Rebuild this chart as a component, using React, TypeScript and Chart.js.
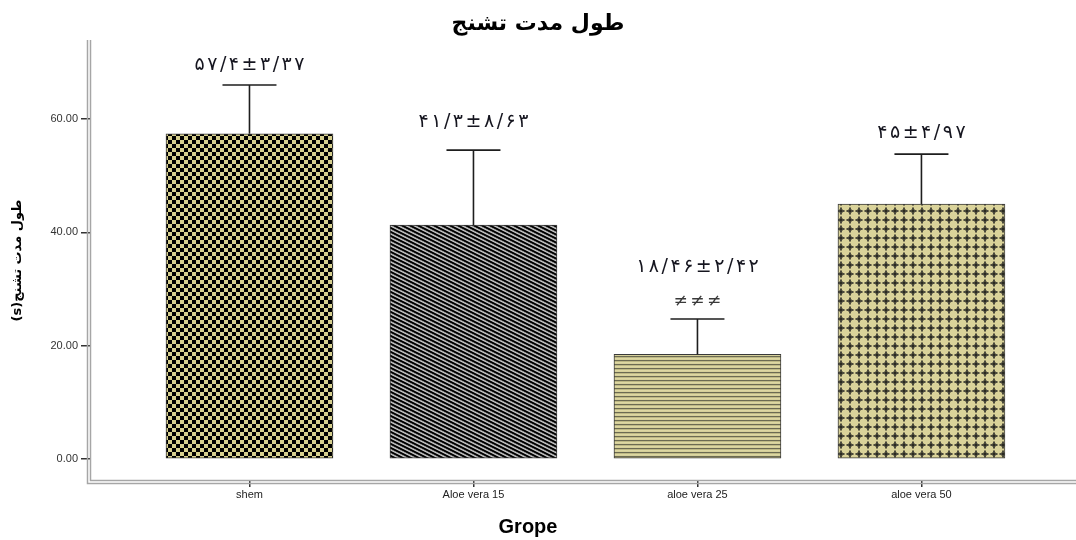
import React, { useEffect, useRef } from 'react';
import { Chart, registerables } from 'chart.js';

Chart.register(...registerables);

const categories = ['shem', 'Aloe vera 15', 'aloe vera 25', 'aloe vera 50'];
const means = [57.4, 41.3, 18.46, 45.0];
const errorTops = [66.0, 54.5, 24.7, 53.8];
const annotations = ['۵۷/۴±۳/۳۷', '۴۱/۳±۸/۶۳', '۱۸/۴۶±۲/۴۲', '۴۵±۴/۹۷'];
const annotationLevels = [69.5, 59.5, 33.9, 57.5];
const marks = ['', '', '≠≠≠', ''];
const markLevels = [0, 0, 27.7, 0];
const yTicks = [0, 20, 40, 60];
const chartTitle = 'طول مدت تشنج';
const yTitle = 'طول مدت تشنج(s)';
const xTitle = 'Grope';

function makePattern(w: number, h: number, paint: (x: number, y: number) => string): CanvasPattern | string {
  const c = document.createElement('canvas');
  c.width = w;
  c.height = h;
  const g = c.getContext('2d');
  if (!g) return '#ccc';
  for (let y = 0; y < h; y++) {
    for (let x = 0; x < w; x++) {
      g.fillStyle = paint(x, y);
      g.fillRect(x, y, 1, 1);
    }
  }
  const p = g.createPattern(c, 'repeat');
  return p || '#ccc';
}

function buildPatterns() {
  const khaki = '#d6cf8e';
  const checker = makePattern(8, 8, (x, y) => ((Math.floor(x / 4) + Math.floor(y / 4)) % 2 === 0 ? khaki : '#000000'));
  const diagCols = ['#000000', '#000000', '#1a1a1a', '#7a7a7a', '#a8a8a8', '#c8c8c8', '#8a8a8a', '#202020'];
  const diagonal = makePattern(8, 4, (x, y) => diagCols[(((2 * y - x) % 8) + 8) % 8]);
  const hCols = ['#6b6a52', '#bdb884', '#ddd7a2', '#d6d09a'];
  const horizontal = makePattern(4, 4, (x, y) => hCols[y]);
  const crossTile = [
    '...++....',
    '...##....',
    '..+##+...',
    '+##@@##+.',
    '+##@@##+.',
    '..+##+...',
    '...##....',
    '...++....',
    '.........',
  ];
  const cross = makePattern(9, 9, (x, y) => {
    const ch = crossTile[y][x];
    if (ch === '@') return '#2a2a20';
    if (ch === '#') return '#4a493c';
    if (ch === '+') return '#908b66';
    return '#dad39a';
  });
  return [checker, diagonal, horizontal, cross];
}

// draws a string glyph by glyph with extra spacing, centred on x
function spacedText(ctx: CanvasRenderingContext2D, text: string, x: number, y: number, spacing: number) {
  const chars = Array.from(text);
  const widths = chars.map((c) => ctx.measureText(c).width);
  const total = widths.reduce((a, b) => a + b, 0) + spacing * (chars.length - 1);
  let cx = x - total / 2;
  ctx.textAlign = 'left';
  chars.forEach((c, i) => {
    ctx.fillText(c, cx, y);
    cx += widths[i] + spacing;
  });
}

const overlayPlugin = {
  id: 'overlay',
  afterDatasetsDraw(chart: any) {
    const { ctx, scales } = chart;
    const xs = scales.x;
    const ys = scales.y;
    ctx.save();
    // error bars
    ctx.strokeStyle = '#1e1e1e';
    ctx.lineWidth = 1.6;
    for (let i = 0; i < means.length; i++) {
      const x = xs.getPixelForValue(i);
      const yTop = ys.getPixelForValue(errorTops[i]);
      const yMean = ys.getPixelForValue(means[i]);
      ctx.beginPath();
      ctx.moveTo(x, yMean);
      ctx.lineTo(x, yTop);
      ctx.moveTo(x - 27, yTop);
      ctx.lineTo(x + 27, yTop);
      ctx.stroke();
    }
    // annotations
    ctx.textBaseline = 'middle';
    ctx.direction = 'ltr';
    for (let i = 0; i < annotations.length; i++) {
      const x = xs.getPixelForValue(i);
      ctx.fillStyle = '#15151f';
      ctx.font = '19px "DejaVu Sans"';
      spacedText(ctx, annotations[i], x, ys.getPixelForValue(annotationLevels[i]), 2.5);
      if (marks[i]) {
        ctx.fillStyle = '#3a3a3a';
        ctx.font = '17px "DejaVu Sans"';
        spacedText(ctx, marks[i], x, ys.getPixelForValue(markLevels[i]), 2.5);
      }
    }
    ctx.restore();
  },
  afterDraw(chart: any) {
    const { ctx, chartArea } = chart;
    ctx.save();
    // double frame lines (left and bottom)
    ctx.strokeStyle = '#a6a6a6';
    ctx.lineWidth = 1.5;
    const l1 = chartArea.left - 2.5;
    const l2 = chartArea.left + 0.5;
    const b1 = chartArea.bottom - 0.5;
    const b2 = chartArea.bottom + 2.5;
    ctx.beginPath();
    ctx.moveTo(l1, chartArea.top);
    ctx.lineTo(l1, b2);
    ctx.lineTo(chartArea.right, b2);
    ctx.moveTo(l2, chartArea.top);
    ctx.lineTo(l2, b1);
    ctx.lineTo(chartArea.right, b1);
    ctx.stroke();
    // y title (rotated, right-to-left)
    ctx.save();
    ctx.translate(18, (chartArea.top + chartArea.bottom) / 2);
    ctx.rotate(-Math.PI / 2);
    ctx.direction = 'rtl';
    ctx.textAlign = 'center';
    ctx.textBaseline = 'middle';
    ctx.fillStyle = '#000';
    ctx.font = 'bold 13px "DejaVu Sans"';
    ctx.fillText(yTitle, 0, 0);
    ctx.restore();
    // x title
    ctx.textAlign = 'center';
    ctx.textBaseline = 'middle';
    ctx.fillStyle = '#000';
    ctx.font = 'bold 20px "Liberation Sans", Arial';
    ctx.fillText(xTitle, 528, 527);
    ctx.restore();
  },
};

export default function App() {
  const canvasRef = useRef<HTMLCanvasElement | null>(null);

  useEffect(() => {
    const canvas = canvasRef.current;
    if (!canvas) return;
    const patterns = buildPatterns();
    Chart.defaults.font.family = '"Liberation Sans", Arial, sans-serif';
    const chart = new Chart(canvas, {
      type: 'bar',
      data: {
        datasets: [
          {
            data: means.map((v, i) => ({ x: i, y: v })),
            backgroundColor: patterns as any,
            borderColor: '#3a3a3a',
            borderWidth: 1,
            borderSkipped: false,
            barThickness: 167,
          },
        ],
      },
      options: {
        responsive: false,
        animation: false,
        layout: { padding: 0 },
        plugins: {
          legend: { display: false },
          tooltip: { enabled: false },
          title: {
            display: true,
            text: chartTitle,
            color: '#000',
            font: { family: '"DejaVu Sans"', size: 22, weight: 'bold' },
            padding: { top: 11, bottom: 2.6 },
          },
        },
        scales: {
          x: {
            type: 'linear',
            offset: false,
            min: -0.712,
            max: 3.69,
            afterBuildTicks: (scale: any) => {
              scale.ticks = categories.map((_, i) => ({ value: i }));
            },
            afterFit: (scale: any) => {
              scale.height = 59;
            },
            ticks: {
              callback: (v: any) => categories[Math.round(Number(v))] ?? '',
              color: '#222',
              font: { size: 11 },
              padding: 1,
              maxRotation: 0,
              autoSkip: false,
            },
            grid: { offset: false, drawOnChartArea: false, drawTicks: true, tickLength: 6, color: '#333', lineWidth: 1.5 },
            border: { display: false },
          },
          y: {
            type: 'linear',
            min: -3.88,
            max: 73.94,
            afterBuildTicks: (scale: any) => {
              scale.ticks = yTicks.map((v) => ({ value: v }));
            },
            afterFit: (scale: any) => {
              scale.width = 90;
            },
            ticks: {
              callback: (v: any) => Number(v).toFixed(2),
              color: '#333',
              font: { size: 11 },
              padding: 3,
              autoSkip: false,
            },
            grid: { drawOnChartArea: false, drawTicks: true, tickLength: 9, color: '#333', lineWidth: 1.5 },
            border: { display: false },
          },
        },
      },
      plugins: [overlayPlugin],
    } as any);
    return () => chart.destroy();
  }, []);

  return (
    <div style={{ position: 'absolute', left: 0, top: 0, width: 1076, height: 540, background: '#fff' }}>
      <canvas ref={canvasRef} width={1076} height={540} style={{ display: 'block' }} />
    </div>
  );
}
